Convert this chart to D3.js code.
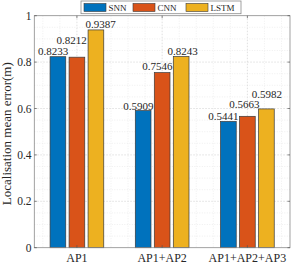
<!DOCTYPE html>
<html><head><meta charset="utf-8">
<script src="https://cdn.jsdelivr.net/npm/d3@7"></script>
<style>html,body{margin:0;padding:0;background:#fff;}svg{display:block;}</style>
</head><body>
<svg id="chart" width="291" height="263"></svg>
<script>
const categories = ["AP1", "AP1+AP2", "AP1+AP2+AP3"];
const seriesNames = ["SNN", "CNN", "LSTM"];
const snnValues = [0.8233, 0.5909, 0.5441];
const cnnValues = [0.8212, 0.7546, 0.5663];
const lstmValues = [0.9387, 0.8243, 0.5982];
const yTicks = [0, 0.2, 0.4, 0.6, 0.8, 1];
const yTickLabels = ["0", "0.2", "0.4", "0.6", "0.8", "1"];
const colors = ["#0072BD", "#D95319", "#EDB120"];
// label placement offsets (px) relative to bar centre/top: [dx, dy] per series per category
const labelDx = [[-4.7, -5.2, 4.6], [-4.8, -4.8, 1.5], [-4.9, -3.0, 0.5]];
const labelDy = [[-5.3, -16.8, -5.9], [-4.4, -6.2, -5.1], [-5.1, -12.3, -14.9]];

const values = [snnValues, cnnValues, lstmValues];
const svg = d3.select("#chart");
const L = 34.3, R = 290, T = 15.7, B = 247.7;
const x = d3.scaleLinear().domain([0.5, 3.5]).range([L, R]);
const y = d3.scaleLinear().domain([0, 1]).range([B, T]);
const xs = d3.scaleBand().domain(seriesNames).range([-26.85, 26.85]).paddingInner(0.174).paddingOuter(0);
const serif = "'Liberation Serif','Times New Roman',serif";

// minor grid
const yMinor = d3.range(0, 1.0001, 0.05).filter(v => Math.abs(v * 5 - Math.round(v * 5)) > 1e-6);
const xMinor = d3.range(0.6, 3.4001, 0.2).filter(v => Math.abs(v - Math.round(v)) > 1e-6);
const g = svg.append("g");
g.selectAll(".ymin").data(yMinor).enter().append("line")
  .attr("x1", L).attr("x2", R).attr("y1", d => y(d)).attr("y2", d => y(d))
  .attr("stroke", "#e4e4e4").attr("stroke-width", 0.6).attr("stroke-dasharray", "1,1.5");
g.selectAll(".xmin").data(xMinor).enter().append("line")
  .attr("y1", T).attr("y2", B).attr("x1", d => x(d)).attr("x2", d => x(d))
  .attr("stroke", "#e4e4e4").attr("stroke-width", 0.6).attr("stroke-dasharray", "1,1.5");
// major grid
g.selectAll(".ymaj").data(yTicks.slice(1, -1)).enter().append("line")
  .attr("x1", L).attr("x2", R).attr("y1", d => y(d)).attr("y2", d => y(d))
  .attr("stroke", "#d2d2d2").attr("stroke-width", 0.7).attr("stroke-dasharray", "1.5,1.5");
g.selectAll(".xmaj").data([1, 2, 3]).enter().append("line")
  .attr("y1", T).attr("y2", B).attr("x1", d => x(d)).attr("x2", d => x(d))
  .attr("stroke", "#d2d2d2").attr("stroke-width", 0.7).attr("stroke-dasharray", "1.5,1.5");

// bars
const barData = [];
categories.forEach((c, ci) => seriesNames.forEach((s, si) => {
  barData.push({ ci, si, c, s, v: values[si][ci] });
}));
svg.append("g").selectAll("rect").data(barData).enter().append("rect")
  .attr("x", d => x(d.ci + 1) + xs(d.s))
  .attr("width", xs.bandwidth())
  .attr("y", d => y(d.v))
  .attr("height", d => y(0) - y(d.v))
  .attr("fill", d => colors[d.si])
  .attr("stroke", "#3a3a3a").attr("stroke-width", 0.7);

// axes box
svg.append("rect").attr("x", L).attr("y", T).attr("width", R - L).attr("height", B - T)
  .attr("fill", "none").attr("stroke", "#8a8a8a").attr("stroke-width", 0.8);
// ticks (inward)
const tk = svg.append("g").attr("stroke", "#555").attr("stroke-width", 0.7);
yTicks.forEach(v => {
  tk.append("line").attr("x1", L).attr("x2", L + 2.5).attr("y1", y(v)).attr("y2", y(v));
  tk.append("line").attr("x1", R).attr("x2", R - 2.5).attr("y1", y(v)).attr("y2", y(v));
});
[1, 2, 3].forEach(v => {
  tk.append("line").attr("y1", B).attr("y2", B - 2.5).attr("x1", x(v)).attr("x2", x(v));
  tk.append("line").attr("y1", T).attr("y2", T + 2.5).attr("x1", x(v)).attr("x2", x(v));
});

// y tick labels
svg.append("g").selectAll("text").data(yTicks).enter().append("text")
  .attr("x", 31.5).attr("y", d => y(d) + 4)
  .attr("text-anchor", "end").attr("font-family", serif).attr("font-size", 11.5).attr("fill", "#262626")
  .text((d, i) => yTickLabels[i]);
// x tick labels
svg.append("g").selectAll("text").data(categories).enter().append("text")
  .attr("x", (d, i) => x(i + 1)).attr("y", 261.5)
  .attr("text-anchor", "middle").attr("font-family", serif).attr("font-size", 12).attr("fill", "#262626")
  .text(d => d);
// y axis title
svg.append("text").attr("transform", `translate(11,${(T + B) / 2 + 2}) rotate(-90)`)
  .attr("text-anchor", "middle").attr("font-family", serif).attr("font-size", 13).attr("fill", "#262626")
  .text("Localisation mean error(m)");

// value labels
svg.append("g").selectAll("text").data(barData).enter().append("text")
  .attr("x", d => x(d.ci + 1) + xs(d.s) + xs.bandwidth() / 2 + labelDx[d.ci][d.si])
  .attr("y", d => y(d.v) + labelDy[d.ci][d.si] + 3.8)
  .attr("text-anchor", "middle").attr("font-family", serif).attr("font-size", 11).attr("fill", "#262626")
  .text(d => d.v.toFixed(4));

// legend
const lg = svg.append("g");
lg.append("rect").attr("x", 81).attr("y", 1).attr("width", 160).attr("height", 12.7)
  .attr("fill", "#fff").attr("stroke", "#8a8a8a").attr("stroke-width", 0.8);
const patchX = [84, 133, 186];
seriesNames.forEach((s, i) => {
  lg.append("rect").attr("x", patchX[i]).attr("y", 3.5).attr("width", 22).attr("height", 8)
    .attr("fill", colors[i]).attr("stroke", "#3a3a3a").attr("stroke-width", 0.6);
  lg.append("text").attr("x", patchX[i] + 24.5).attr("y", 10.8)
    .attr("font-family", serif).attr("font-size", 9).attr("fill", "#262626").text(s);
});
</script>
</body></html>
